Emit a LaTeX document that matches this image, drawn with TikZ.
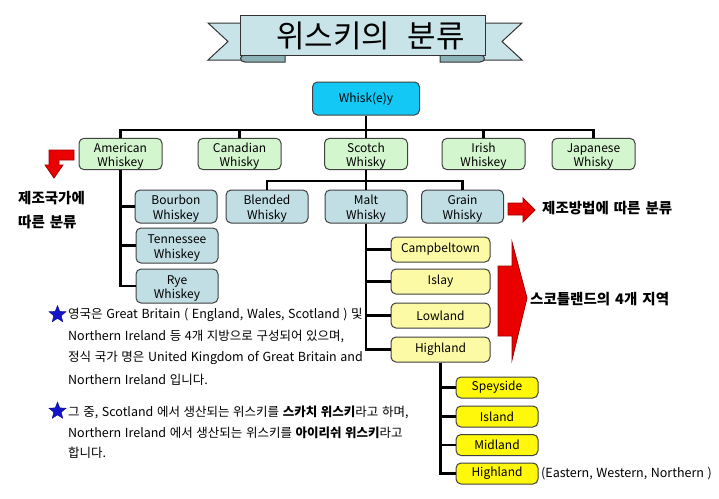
\documentclass[tikz,border=0pt]{standalone}
\usepackage{fontspec}
\setmainfont{Noto Sans CJK KR}
\usetikzlibrary{shapes.geometric}
\definecolor{topc}{RGB}{20,200,245}
\definecolor{greenc}{RGB}{212,246,206}
\definecolor{bluec}{RGB}{192,222,228}
\definecolor{paley}{RGB}{252,250,165}
\definecolor{brighty}{RGB}{255,248,10}
\definecolor{bannerc}{RGB}{200,228,232}
\definecolor{bannerd}{RGB}{140,178,184}
\definecolor{redc}{RGB}{235,0,0}
\definecolor{redd}{RGB}{160,0,0}
\definecolor{starc}{RGB}{20,20,200}
\newcommand\mybodyfont{\fontsize{12.5}{14}\selectfont\spaceskip 3.6pt\relax}
\newcommand\myboldfont{\fontsize{14.5}{16}\selectfont\bfseries\spaceskip 5pt\relax}
\newcommand\mytopstrut{\rule{0pt}{28.5pt}}
\tikzset{
  box/.style={draw=black!75, line width=1pt, rounded corners=5pt, inner sep=0pt, align=center,
    font=\fontsize{12}{14.5}\selectfont},
  twoline/.style={execute at begin node=\mytopstrut},
  topbox/.style={box, fill=topc, minimum width=107pt, minimum height=33pt},
  countrybox/.style={box, twoline, fill=greenc, minimum width=83pt, minimum height=30pt},
  kindbox/.style={box, twoline, fill=bluec, minimum width=82pt, minimum height=33pt},
  regionbox/.style={box, fill=paley, minimum width=99pt, minimum height=25pt},
  subbox/.style={box, fill=brighty, minimum width=82pt, minimum height=21pt},
  conn/.style={line width=2.5pt, black},
  bodytxt/.style={anchor=west, inner sep=0pt, font=\mybodyfont},
  boldtxt/.style={anchor=west, inner sep=0pt, font=\myboldfont},
  redarrow/.style={fill=redc, draw=redd, line width=0.8pt},
  starmark/.style={star, star points=5, star point ratio=2.3, fill=starc, draw=starc!70!black, minimum size=18pt, inner sep=0pt}
}
\begin{document}
\begin{tikzpicture}[x=1pt,y=-1pt]
\useasboundingbox (0,0) rectangle (719,498);

% ---- title banner ----
\draw[fill=bannerc, draw=black!80, line width=1pt] (208,23) -- (262,23) -- (262,60) -- (208,60) -- (228,41.5) -- cycle;
\draw[fill=bannerc, draw=black!80, line width=1pt] (522,23) -- (463,23) -- (463,60) -- (522,60) -- (502,41.5) -- cycle;
\draw[fill=bannerd, draw=black!80, line width=1pt] (285,55) -- (285,62) -- (245,62) .. controls (239,62) and (239,55) .. (245,55) -- cycle;
\draw[fill=bannerd, draw=black!80, line width=1pt] (440,55) -- (440,62) -- (480,62) .. controls (486,62) and (486,55) .. (480,55) -- cycle;
\draw[fill=bannerc, draw=black!80, line width=1pt] (240,15) rectangle (485,55);
\node[inner sep=0pt, font=\fontsize{31}{33}\selectfont] (title) at (370.5,36) {위스키의\hspace{0.55em}분류};

% ---- nodes ----
\node[topbox] (whisky) at (366,98.5) {Whisk(e)y};

\node[countrybox] (american) at (120.5,154) {American\\Whiskey};
\node[countrybox] (canadian) at (239.5,154) {Canadian\\Whisky};
\node[countrybox] (scotch) at (366,154) {Scotch\\Whisky};
\node[countrybox] (irish) at (483.5,154) {Irish\\Whiskey};
\node[countrybox] (japanese) at (593.5,154) {Japanese\\Whisky};

\node[kindbox] (blended) at (267,206.5) {Blended\\Whisky};
\node[kindbox] (malt) at (366,206.5) {Malt\\Whisky};
\node[kindbox] (grain) at (462.5,206.5) {Grain\\Whisky};

\node[kindbox] (bourbon) at (176,206.5) {Bourbon\\Whiskey};
\node[kindbox, minimum height=35pt] (tennessee) at (177,245.5) {Tennessee\\Whiskey};
\node[kindbox, minimum height=34pt] (rye) at (177,286) {Rye\\Whiskey};

\node[regionbox] (campbeltown) at (440.5,249.5) {Campbeltown};
\node[regionbox] (islay) at (440.5,281.5) {Islay};
\node[regionbox] (lowland) at (440.5,315.5) {Lowland};
\node[regionbox] (highlanda) at (440.5,349.5) {Highland};

\node[subbox] (speyside) at (497,387.5) {Speyside};
\node[subbox] (island) at (497,416.5) {Island};
\node[subbox] (midland) at (497,445) {Midland};
\node[subbox] (highlandb) at (497,473.5) {Highland};

% ---- connectors ----
\coordinate (bus1) at (366,130);
\coordinate (bus2) at (366,181);
\draw[conn] (whisky.south) -- (bus1);
\draw[conn] (bus1) -| (american.north);
\draw[conn] (bus1) -| (canadian.north);
\draw[conn] (bus1) -- (scotch.north);
\draw[conn] (bus1) -| (irish.north);
\draw[conn] (bus1) -| (japanese.north);

\draw[conn] (scotch.south) -- (bus2);
\draw[conn] (bus2) -| (blended.north);
\draw[conn] (bus2) -- (malt.north);
\draw[conn] (bus2) -| (grain.north);

\draw[conn] (american.south) |- (bourbon.west);
\draw[conn] (american.south) |- (tennessee.west);
\draw[conn] (american.south) |- (rye.west);

\draw[conn] (malt.south) |- (campbeltown.west);
\draw[conn] (malt.south) |- (islay.west);
\draw[conn] (malt.south) |- (lowland.west);
\draw[conn] (malt.south) |- (highlanda.west);

\draw[conn] (highlanda.south) |- (speyside.west);
\draw[conn] (highlanda.south) |- (island.west);
\draw[conn] (highlanda.south) |- (midland.west);
\draw[conn] (highlanda.south) |- (highlandb.west);

% ---- red arrows ----
\draw[redarrow] (74,150) -- (49,150) -- (49,165) -- (45,165) -- (54,178) -- (63,165) -- (59,165) -- (59,160) -- (74,160) -- cycle;
\draw[redarrow] (508,203) -- (523,203) -- (523,198) -- (535,210) -- (523,222) -- (523,215) -- (508,215) -- cycle;
\draw[redarrow] (498,266) -- (512,266) -- (512,242) -- (527,298) -- (512,360) -- (512,336) -- (498,336) -- cycle;

% ---- labels ----
\node[boldtxt] (lbl1a) at (18,198) {제조국가에};
\node[boldtxt] (lbl1b) at (18,222) {따른 분류};
\node[boldtxt] (lbl2) at (542,208) {제조방법에 따른 분류};
\node[boldtxt] (lbl3) at (530,299) {스코틀랜드의 4개 지역};
\node[bodytxt] (extra) at (541,474) {(Eastern, Western, Northern )};

% ---- notes ----
\node[starmark] (star1) at (57.5,314.5) {};
\node[starmark] (star2) at (57.5,411) {};
\node[bodytxt] (n1) at (68,315) {영국은 Great Britain ( England, Wales, Scotland ) 및};
\node[bodytxt] (n2) at (68,337) {Northern Ireland 등 4개 지방으로 구성되어 있으며,};
\node[bodytxt] (n3) at (68,358) {정식 국가 명은 United Kingdom of Great Britain and};
\node[bodytxt] (n4) at (68,380) {Northern Ireland 입니다.};
\node[bodytxt] (m1) at (68,412) {그 중, Scotland 에서 생산되는 위스키를 \textbf{스카치 위스키}라고 하며,};
\node[bodytxt] (m2) at (68,433) {Northern Ireland 에서 생산되는 위스키를 \textbf{아이리쉬 위스키}라고};
\node[bodytxt] (m3) at (68,453) {합니다.};
\end{tikzpicture}
\end{document}
